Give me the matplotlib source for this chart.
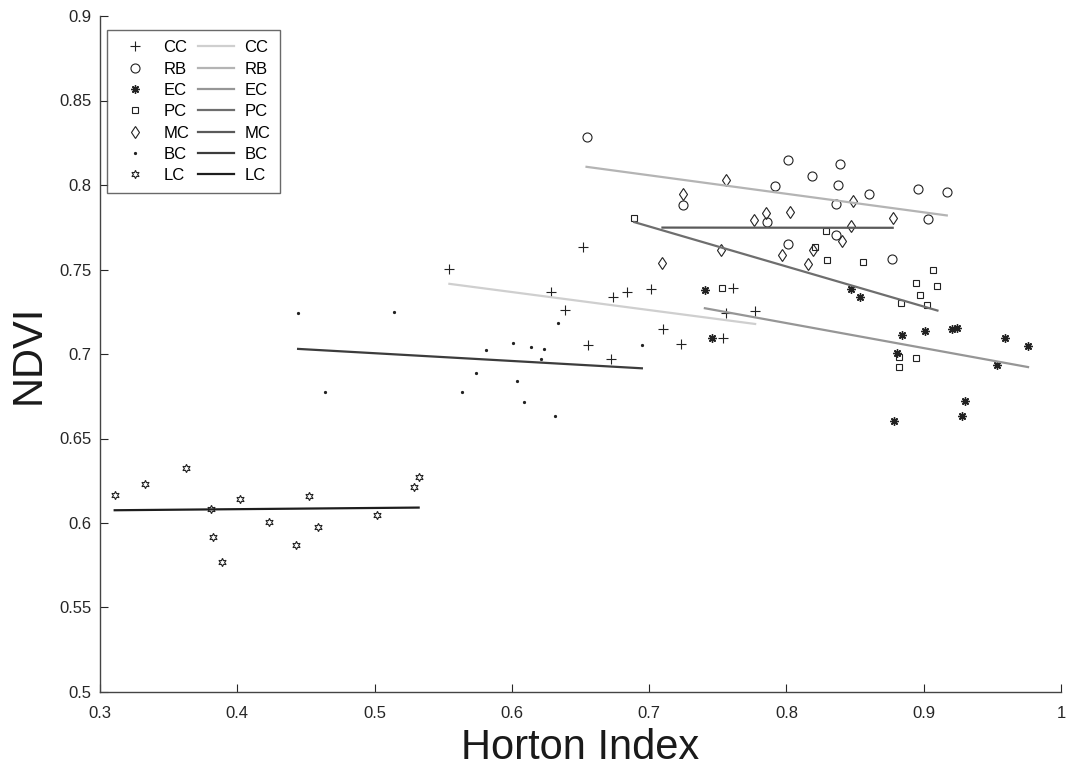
import numpy as np
import matplotlib
matplotlib.use("Agg")
import matplotlib.pyplot as plt

plt.rcParams['font.family'] = ['Liberation Sans', 'DejaVu Sans']

groups = ["CC", "RB", "EC", "PC", "MC", "BC", "LC"]

cc_x = [0.5545, 0.6515, 0.6282, 0.6388, 0.6735, 0.6838, 0.7012, 0.6553, 0.672, 0.7099, 0.7235, 0.7613, 0.7561, 0.7772, 0.754]
cc_y = [0.7503, 0.7633, 0.7369, 0.7262, 0.7339, 0.7369, 0.7383, 0.7055, 0.6969, 0.7150, 0.7059, 0.7389, 0.7241, 0.7256, 0.7093]

rb_x = [0.6544, 0.8009, 0.839, 0.8185, 0.7914, 0.8377, 0.86, 0.8962, 0.9168, 0.725, 0.8361, 0.903, 0.7858, 0.836, 0.8008, 0.877]
rb_y = [0.8282, 0.8148, 0.8126, 0.8055, 0.7992, 0.7998, 0.7949, 0.7976, 0.7959, 0.7884, 0.7889, 0.7797, 0.7783, 0.7702, 0.765, 0.7562]

ec_x = [0.7406, 0.7461, 0.8467, 0.8537, 0.8844, 0.8806, 0.9009, 0.9207, 0.9243, 0.9594, 0.976, 0.9533, 0.9302, 0.9282, 0.8781]
ec_y = [0.7379, 0.7093, 0.7385, 0.7337, 0.7111, 0.7006, 0.7134, 0.7146, 0.7152, 0.7097, 0.7049, 0.6935, 0.6724, 0.6635, 0.6604]

pc_x = [0.6891, 0.8288, 0.8298, 0.8559, 0.907, 0.8946, 0.91, 0.8973, 0.8835, 0.9023, 0.753, 0.882, 0.8818, 0.8944, 0.8207]
pc_y = [0.7805, 0.7730, 0.7559, 0.7546, 0.7499, 0.7418, 0.74, 0.7351, 0.7304, 0.7287, 0.7389, 0.6980, 0.6925, 0.6974, 0.7633]

mc_x = [0.7097, 0.725, 0.7525, 0.7561, 0.7766, 0.7853, 0.7967, 0.8027, 0.8158, 0.8193, 0.8407, 0.8472, 0.8484, 0.8774]
mc_y = [0.7536, 0.7947, 0.7615, 0.8031, 0.779, 0.7836, 0.7586, 0.7840, 0.7533, 0.7615, 0.7667, 0.7755, 0.7907, 0.7805]

bc_x = [0.4443, 0.4639, 0.5144, 0.564, 0.5739, 0.581, 0.6007, 0.604, 0.6086, 0.614, 0.6213, 0.6234, 0.6315, 0.6333, 0.6947]
bc_y = [0.7241, 0.6777, 0.7247, 0.6773, 0.6886, 0.7024, 0.7065, 0.6843, 0.6716, 0.7041, 0.6972, 0.703, 0.6635, 0.7183, 0.7053]

lc_x = [0.3107, 0.3331, 0.3629, 0.3807, 0.3822, 0.389, 0.4022, 0.4233, 0.4426, 0.4523, 0.4588, 0.5018, 0.5284, 0.5321]
lc_y = [0.6167, 0.6233, 0.6324, 0.6081, 0.5915, 0.5769, 0.6144, 0.6004, 0.5868, 0.6158, 0.5974, 0.6045, 0.6211, 0.6274]

xs = [cc_x, rb_x, ec_x, pc_x, mc_x, bc_x, lc_x]
ys = [cc_y, rb_y, ec_y, pc_y, mc_y, bc_y, lc_y]

x_ticks = [0.3, 0.4, 0.5, 0.6, 0.7, 0.8, 0.9, 1.0]
x_tick_labels = ["0.3", "0.4", "0.5", "0.6", "0.7", "0.8", "0.9", "1"]
y_ticks = [0.5, 0.55, 0.6, 0.65, 0.7, 0.75, 0.8, 0.85, 0.9]
y_tick_labels = ["0.5", "0.55", "0.6", "0.65", "0.7", "0.75", "0.8", "0.85", "0.9"]

markers = ['+', 'o', (8, 2, 0), 's', 'd', '.', (6, 1, 0)]
msizes = [7, 6.5, 6, 4.5, 6.5, 3, 6]
line_colors = ['#cfcfcf', '#b4b4b4', '#969696', '#6e6e6e', '#5a5a5a', '#3c3c3c', '#1e1e1e']
mk_color = '#222222'

fig = plt.figure(figsize=(10.67, 7.71), dpi=100)
ax = fig.add_axes([100/1067, 79/771, 961/1067, 676/771])

scatter_handles = []
for g, x, y, m, s in zip(groups, xs, ys, markers, msizes):
    filled = m in ['.', '+', (8, 2, 0)]
    h, = ax.plot(x, y, linestyle='none', marker=m, markersize=s,
                 markerfacecolor=mk_color if filled else 'none',
                 markeredgecolor=mk_color,
                 markeredgewidth=1.0 if m == (8, 2, 0) else 0.8, label=g)
    scatter_handles.append(h)

line_handles = []
for g, x, y, c in zip(groups, xs, ys, line_colors):
    x = np.asarray(x)
    y = np.asarray(y)
    p = np.polyfit(x, y, 1)
    xx = np.array([x.min(), x.max()])
    h, = ax.plot(xx, np.polyval(p, xx), color=c, linewidth=1.6, label=g)
    line_handles.append(h)

ax.set_xlim(0.3, 1.0)
ax.set_ylim(0.5, 0.9)
ax.set_xticks(x_ticks)
ax.set_xticklabels(x_tick_labels)
ax.set_yticks(y_ticks)
ax.set_yticklabels(y_tick_labels)
ax.tick_params(direction='in', length=6, width=0.8, labelsize=12, colors='#262626')
ax.tick_params(axis='x', pad=10)
ax.tick_params(axis='y', pad=6)
for side in ['top', 'right']:
    ax.spines[side].set_visible(False)
for side in ['left', 'bottom']:
    ax.spines[side].set_color('#444444')
    ax.spines[side].set_linewidth(1.0)

ax.set_xlabel("Horton Index", fontsize=30, color='#1a1a1a', labelpad=5)
ax.set_ylabel("NDVI", fontsize=30, color='#1a1a1a', labelpad=8)

leg = ax.legend(scatter_handles + line_handles,
                groups + groups, ncol=2, loc='upper left',
                bbox_to_anchor=(0.007, 0.979), borderaxespad=0,
                fontsize=12, frameon=True, fancybox=False,
                handlelength=2.2, handletextpad=0.6, columnspacing=0.5,
                labelspacing=0.38, borderpad=0.6)
leg.get_frame().set_edgecolor('#444444')
leg.get_frame().set_linewidth(1.0)

fig.savefig("out.png", dpi=100)
